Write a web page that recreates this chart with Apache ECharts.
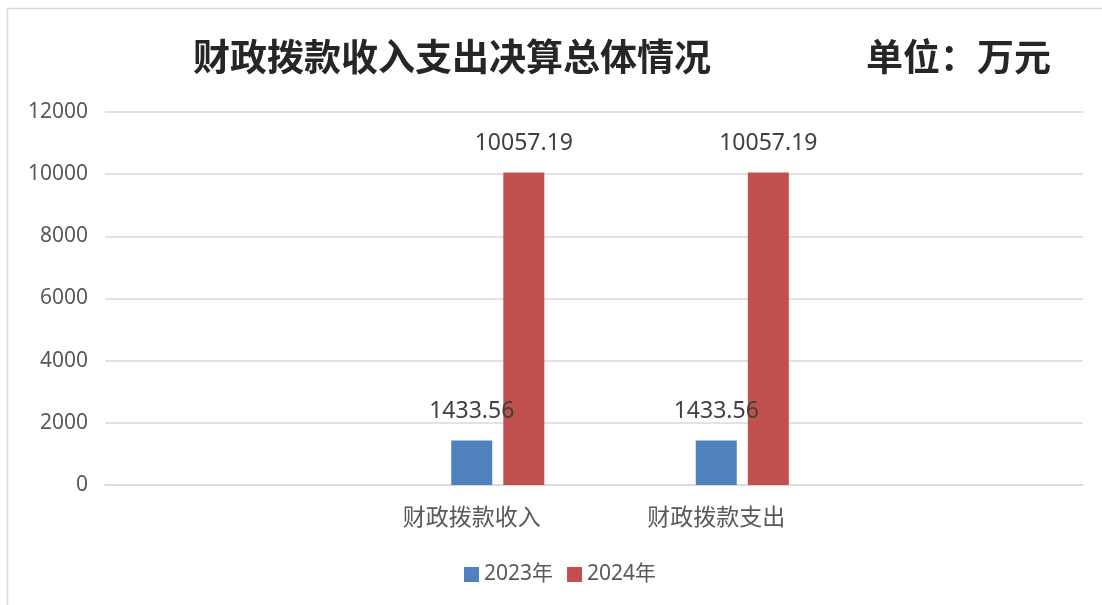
<!DOCTYPE html>
<html>
<head>
<meta charset="utf-8">
<script src="https://cdn.jsdelivr.net/npm/echarts@6/dist/echarts.min.js"></script>
<style>html,body{margin:0;padding:0;background:#fff}#c{width:1102px;height:605px}</style>
</head>
<body>
<div id="c"></div>
<script>
var titleText = '财政拨款收入支出决算总体情况';
var unitText = '单位：万元';
var categories = ['', '财政拨款收入', '财政拨款支出', ''];
var seriesNames = ['2023年', '2024年'];
var values2023 = [null, 1433.56, 1433.56, null];
var values2024 = [null, 10057.19, 10057.19, null];
var placeholder = [null, null, null, null];

var chart = echarts.init(document.getElementById('c'));
var labelStyle = {show: true, position: 'top', distance: 17, color: '#404040', fontSize: 23, fontFamily: 'Noto Sans, sans-serif',
  formatter: function (p) { return p.value == null ? '' : p.value.toFixed(2); }};
chart.setOption({
  animation: false,
  backgroundColor: '#fff',
  graphic: [{type: 'rect', shape: {x: 7.5, y: 8.5, width: 1300, height: 800}, style: {fill: null, stroke: '#D9D9D9', lineWidth: 1.5}, silent: true}],
  title: [
    {text: titleText, left: 193, top: 38, padding: 0, textStyle: {fontSize: 37, fontWeight: 'bold', color: '#262626', fontFamily: 'Noto Sans CJK SC'}},
    {text: unitText, left: 866, top: 38, padding: 0, textStyle: {fontSize: 37, fontWeight: 'bold', color: '#262626', fontFamily: 'Noto Sans CJK SC'}}
  ],
  legend: {
    data: seriesNames, left: 459, top: 559, itemWidth: 15, itemHeight: 15, itemGap: 14, icon: 'rect',
    textStyle: {fontSize: 21, color: '#595959', fontFamily: 'Noto Sans, Noto Sans CJK SC'}
  },
  grid: {left: 105, right: 19, top: 112, bottom: 120, containLabel: false},
  xAxis: {
    type: 'category', data: categories,
    axisLine: {lineStyle: {color: '#D9D9D9', width: 1.5}}, axisTick: {show: false},
    axisLabel: {interval: 0, margin: 20, fontSize: 23, color: '#595959', fontFamily: 'Noto Sans CJK SC'}
  },
  yAxis: {
    type: 'value', min: 0, max: 12000, interval: 2000,
    axisLine: {show: false}, axisTick: {show: false},
    splitLine: {lineStyle: {color: '#D9D9D9', width: 1.5}},
    axisLabel: {margin: 17, fontSize: 21, color: '#595959', fontFamily: 'Noto Sans, sans-serif',
      formatter: function (v) { return String(v); }}
  },
  series: [
    {name: '_', type: 'bar', data: placeholder, barWidth: 41, barGap: '27%'},
    {name: seriesNames[0], type: 'bar', data: values2023, barWidth: 41, barGap: '27%', itemStyle: {color: '#4F81BD'}, label: labelStyle},
    {name: seriesNames[1], type: 'bar', data: values2024, barWidth: 41, barGap: '27%', itemStyle: {color: '#C0504D'}, label: labelStyle}
  ],
  color: ['#ffffff', '#4F81BD', '#C0504D']
});
</script>
</body>
</html>
